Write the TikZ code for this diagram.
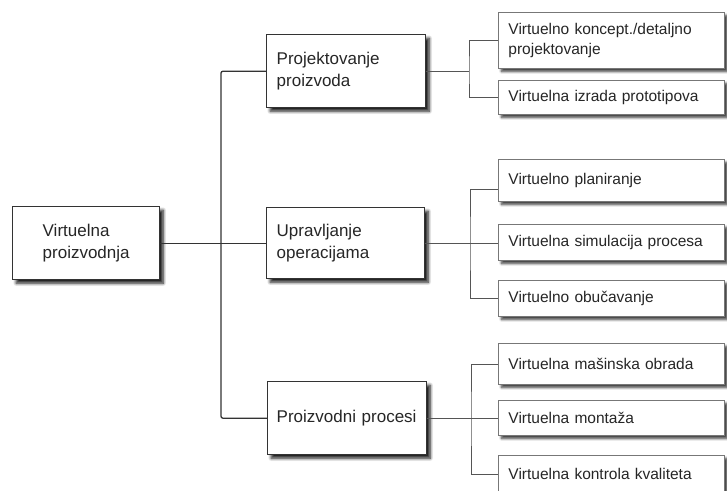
\documentclass[tikz,border=0pt]{standalone}
\usepackage{fontspec}
\setmainfont{Liberation Sans}
\usetikzlibrary{shadows.blur}
\definecolor{darkline}{HTML}{333333}
\definecolor{midline}{HTML}{555555}
\definecolor{boxline}{HTML}{777777}
\definecolor{txt}{HTML}{262626}
\tikzset{
  mainbox/.style={draw=darkline, line width=1.4pt, fill=white, anchor=north west,
    align=left, inner ysep=0pt, text=txt, font=\fontsize{17}{22}\selectfont,
    blur shadow={shadow xshift=3.5pt, shadow yshift=-3.5pt, shadow blur radius=3pt,
      shadow blur steps=8, shadow opacity=90}},
  subbox/.style={draw=boxline, line width=0.9pt, fill=white, anchor=north west,
    align=left, inner ysep=0pt, text=txt, font=\fontsize{15.5}{20}\selectfont,
    minimum width=226pt, text width=206pt, inner xsep=10pt,
    blur shadow={shadow xshift=3pt, shadow yshift=-3pt, shadow blur radius=2.5pt,
      shadow blur steps=8, shadow opacity=80}},
  trunk/.style={draw=darkline, line width=1.3pt, rounded corners=2pt},
  branch/.style={draw=midline, line width=0.9pt}
}
\begin{document}
\begin{tikzpicture}[x=1pt,y=-1pt]
\useasboundingbox (0,0) rectangle (727,490);
% main boxes
\node[mainbox, minimum width=147pt, text width=97pt, inner xsep=25pt, minimum height=73pt] (root) at (12,206)
  {\hspace*{5pt}Virtuelna\\\hspace*{5pt}proizvodnja};
\node[mainbox, minimum width=159pt, text width=139pt, inner xsep=10pt, minimum height=73pt] (proj) at (266,34)
  {Projektovanje\\proizvoda};
\node[mainbox, minimum width=158pt, text width=138pt, inner xsep=10pt, minimum height=71pt] (upr) at (266,207)
  {Upravljanje\\operacijama};
\node[mainbox, minimum width=159pt, text width=145pt, inner xsep=7pt, minimum height=73pt] (proc) at (267,381)
  {\hspace*{2pt}Proizvodni procesi};
% sub boxes
\node[subbox, minimum height=56pt] (r1) at (498,12) {Virtuelno koncept./detaljno\\projektovanje};
\node[subbox, minimum height=34pt] (r2) at (498,80) {Virtuelna izrada prototipova};
\node[subbox, minimum height=42pt] (r3) at (498,159) {Virtuelno planiranje};
\node[subbox, minimum height=36pt] (r4) at (498,224) {Virtuelna simulacija procesa};
\node[subbox, minimum height=36pt] (r5) at (498,280) {Virtuelno obučavanje};
\node[subbox, minimum height=41pt] (r6) at (498,343) {Virtuelna mašinska obrada};
\node[subbox, minimum height=35pt] (r7) at (498,400) {Virtuelna montaža};
\node[subbox, minimum height=38pt] (r8) at (498,455) {Virtuelna kontrola kvaliteta};
% junctions
\coordinate (tj) at (221,0);
\coordinate (pj) at (469,0);
\coordinate (uj) at (470,0);
\coordinate (cj) at (471,0);
\coordinate (r3s) at ([yshift=-9pt]r3.west);
% trunk
\draw[trunk] (root.east) -- (root.east -| upr.west);
\draw[trunk] (proj.west) -| (tj |- proc.west) -- (proc.west);
% branches
\draw[branch] (proj.east) -- (pj |- proj.east);
\draw[branch] (r1.west) -| (pj |- proj.east) |- (r2.west);
\draw[branch] (upr.east) -- (upr.east -| r4.west);
\draw[branch] (r3s) -| (uj |- upr.east) |- (r5.west);
\draw[branch] (proc.east) -- (proc.east -| r7.west);
\draw[branch] (r6.west) -| (cj |- proc.east) |- (r8.west);
\end{tikzpicture}
\end{document}
